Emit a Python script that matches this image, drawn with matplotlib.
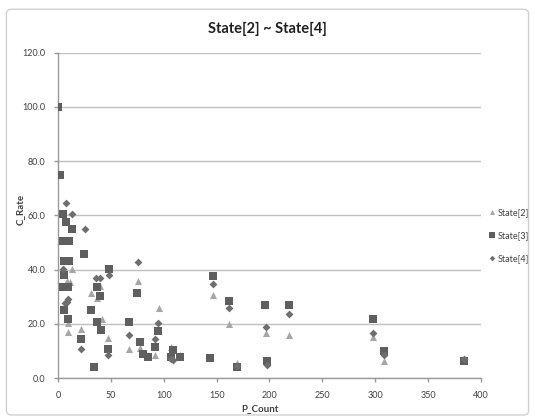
import matplotlib.pyplot as plt
from matplotlib.patches import FancyBboxPatch
from matplotlib.ticker import FormatStrFormatter, MultipleLocator

# State[2]
s2_x = [13, 8.2, 11.4, 31, 39.8, 36.6, 41.3, 9.5, 9.2, 22, 47.3, 67.5, 75.3, 78,
        92, 95.2, 106.5, 115.3, 146.5, 161.6, 196.3, 218.5, 169, 297.7, 308.4, 383.8]
s2_y = [40.2, 35.8, 35.5, 31.2, 33.8, 29.4, 21.8, 20.2, 17, 18.2, 14.8, 10.6, 35.9, 11,
        8.6, 26, 11.3, 8.4, 30.8, 20, 16.5, 15.9, 5.4, 15, 6.3, 6.5]

# State[3]
s3_x = [0, 1.5, 4.7, 7.6, 13, 5, 10, 24.6, 6, 10, 48, 5.7, 5, 9, 36.5, 40, 6, 31,
        9.2, 37, 40.7, 22, 47.2, 33.8, 67, 75, 77.7, 80, 85.5, 92, 94.4, 108.6,
        106.7, 115, 146.5, 161.6, 196, 218.5, 143.6, 169, 197.6, 297.7, 308.4, 383.8]
s3_y = [100, 75, 60.5, 57.5, 55, 50.5, 50.5, 45.7, 43, 43, 40.2, 38, 33.7, 33.7, 33.7,
        30.4, 25.2, 25.2, 21.8, 20.8, 17.7, 14.4, 10.8, 4, 20.8, 31.2, 13.4, 8.9, 7.9,
        11.6, 17.5, 10.3, 7.9, 7.6, 37.7, 28.3, 27, 26.8, 7.2, 4.2, 6.4, 21.9, 10, 6.3]

# State[4]
s4_x = [7.6, 13, 25.3, 4.5, 48, 36, 40, 9.8, 8.2, 6.6, 21.8, 47.2, 75.3, 67.5, 92,
        95, 109, 107, 146.5, 161.6, 196.3, 218.5, 169, 198, 297.7, 308.4, 383.8]
s4_y = [64.4, 60.4, 54.8, 40.2, 37.9, 36.8, 36.8, 29, 28.2, 27.8, 10.8, 8.4, 42.9, 15.7,
        14.4, 20.2, 6.6, 7.0, 34.6, 25.8, 18.8, 23.6, 4.5, 4.7, 16.5, 8.5, 6.9]

plt.rcParams['font.family'] = ['Lato', 'DejaVu Sans']

fig = plt.figure(figsize=(5.35, 4.2), dpi=100)
fig.patch.set_facecolor('white')

# outer chart frame
frame = FancyBboxPatch((0.012, 0.012), 0.976, 0.966, boxstyle='round,pad=0,rounding_size=0.01',
                       transform=fig.transFigure, fill=False, edgecolor='#d0d0d0', linewidth=1)
fig.patches.append(frame)

ax = fig.add_axes([0.1084, 0.1, 0.7906, 0.7745])

ax.scatter(s2_x, s2_y, marker='^', s=26, color='#a6a6a6', linewidths=0, label='State[2]', zorder=3)
ax.scatter(s3_x, s3_y, marker='s', s=28, color='#5f5f5f', linewidths=0, label='State[3]', zorder=3)
ax.scatter(s4_x, s4_y, marker='D', s=16, color='#6e6e6e', linewidths=0, label='State[4]', zorder=3)

ax.set_xlim(0, 400)
ax.set_ylim(0, 120)
ax.xaxis.set_major_locator(MultipleLocator(50))
ax.yaxis.set_major_locator(MultipleLocator(20))
ax.yaxis.set_major_formatter(FormatStrFormatter('%.1f'))

ax.grid(axis='y', color='#c0c0c0', linewidth=1)
ax.set_axisbelow(True)
for side in ['top', 'right']:
    ax.spines[side].set_visible(False)
for side in ['left', 'bottom']:
    ax.spines[side].set_color('#9a9a9a')
    ax.spines[side].set_linewidth(1)
ax.tick_params(axis='both', labelsize=6.5, colors='#9a9a9a', labelcolor='#404040',
               length=3, width=1, pad=6)

ax.set_xlabel('P_Count', fontsize=7, fontweight='bold', color='#404040')
ax.set_ylabel('C_Rate', fontsize=7, fontweight='bold', color='#404040')
ax.xaxis.set_label_coords(0.478, -0.08)
ax.yaxis.set_label_coords(-0.078, 0.517)

fig.text(0.5, 0.932, 'State[2] ~ State[4]', ha='center', va='center',
         fontsize=10.5, fontweight='bold', color='#202020')

leg = fig.legend(loc='center left', bbox_to_anchor=(0.912, 0.44), frameon=False,
                 fontsize=6.5, handletextpad=0.1, labelspacing=1.55, markerscale=0.7,
                 handlelength=1.0, borderaxespad=0, borderpad=0)
for t in leg.get_texts():
    t.set_color('#404040')

fig.savefig('out.png', dpi=100)
